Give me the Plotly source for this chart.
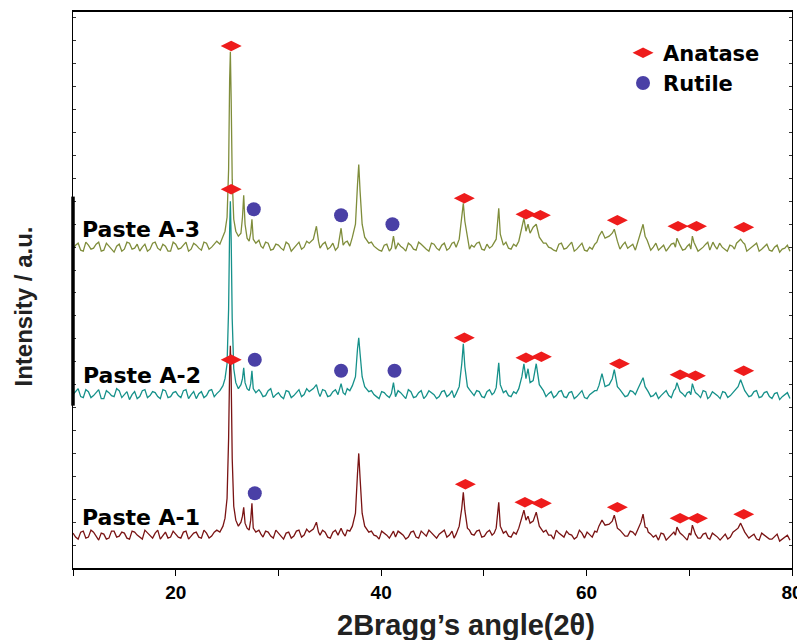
import plotly.graph_objects as go

# ---- data (2theta in degrees, intensity in arbitrary units, already offset per sample) ----
a1_points = [
    (10.0, 35), (10.5, 29), (11.0, 37), (11.5, 31), (12.0, 36), (12.5, 28), (13.0, 34), (13.5, 30),
    (14.0, 37), (14.5, 32), (15.0, 35), (15.5, 29), (16.0, 36), (16.5, 31), (17.0, 38), (17.5, 32),
    (18.0, 35), (18.5, 29), (19.0, 36), (19.5, 31), (20.0, 34), (20.5, 30), (21.0, 37), (21.5, 32),
    (22.0, 36), (22.5, 30), (23.0, 35), (23.5, 32), (24.0, 38), (24.3, 36), (24.6, 42), (24.8, 50),
    (25.0, 70), (25.15, 130), (25.25, 200), (25.32, 223), (25.4, 190), (25.5, 110), (25.65, 62),
    (25.85, 48), (26.1, 42), (26.35, 46), (26.5, 52), (26.62, 61), (26.75, 45), (26.95, 40),
    (27.15, 38), (27.3, 48), (27.42, 65), (27.55, 40), (27.8, 36), (28.1, 38), (28.5, 31), (29.0, 36),
    (29.5, 30), (30.0, 35), (30.5, 29), (31.0, 36), (31.5, 32), (32.0, 38), (32.5, 33), (33.0, 36),
    (33.4, 39), (33.7, 46), (33.9, 36), (34.3, 38), (34.8, 31), (35.3, 36), (35.8, 33), (36.1, 40),
    (36.3, 35), (36.7, 38), (37.2, 42), (37.5, 55), (37.7, 95), (37.82, 115), (37.95, 90), (38.15, 55),
    (38.4, 42), (38.8, 36), (39.3, 33), (39.8, 29), (40.3, 35), (40.8, 30), (41.2, 37), (41.4, 31),
    (41.9, 35), (42.4, 29), (42.9, 36), (43.4, 31), (43.9, 37), (44.4, 32), (44.9, 35), (45.4, 30),
    (45.9, 36), (46.4, 31), (46.9, 37), (47.3, 34), (47.6, 42), (47.85, 60), (48.0, 76), (48.15, 58),
    (48.4, 40), (48.8, 34), (49.3, 37), (49.8, 31), (50.3, 36), (50.8, 33), (51.2, 40), (51.45, 66),
    (51.6, 42), (51.9, 35), (52.4, 32), (52.9, 36), (53.4, 40), (53.7, 50), (53.9, 58), (54.1, 48),
    (54.3, 52), (54.5, 45), (54.8, 47), (55.1, 56), (55.4, 42), (55.8, 36), (56.3, 33), (56.8, 29),
    (57.3, 35), (57.8, 31), (58.3, 34), (58.8, 29), (59.3, 38), (59.8, 30), (60.3, 33), (60.8, 37),
    (61.2, 42), (61.5, 48), (61.8, 43), (62.2, 44), (62.5, 47), (62.7, 53), (63.0, 40), (63.5, 35),
    (64.0, 32), (64.5, 36), (65.0, 39), (65.3, 46), (65.5, 54), (65.7, 41), (66.0, 36), (66.5, 31),
    (67.0, 28), (67.5, 34), (68.0, 31), (68.5, 36), (68.8, 41), (69.1, 35), (69.6, 30), (70.0, 35),
    (70.3, 43), (70.6, 34), (71.1, 30), (71.6, 35), (72.0, 29), (72.5, 33), (73.0, 28), (73.5, 34),
    (74.0, 31), (74.5, 38), (75.0, 45), (75.4, 36), (75.8, 30), (76.3, 34), (76.8, 28), (77.3, 33),
    (77.8, 29), (78.3, 32), (78.8, 27), (79.3, 31), (79.8, 28),
]
a1_noise = [
    (10.25, 31), (10.75, 36), (11.25, 30), (11.75, 38), (12.25, 32), (12.75, 35), (13.25, 29),
    (13.75, 37), (14.25, 31), (14.75, 36), (15.25, 30), (15.75, 37), (16.25, 33), (16.75, 29),
    (17.25, 35), (17.75, 30), (18.25, 38), (18.75, 32), (19.25, 30), (19.75, 37), (20.25, 31),
    (20.75, 36), (21.25, 29), (21.75, 35), (22.25, 31), (22.75, 38), (23.25, 30), (23.75, 36),
    (28.3, 34), (28.75, 37), (29.25, 32), (29.75, 38), (30.25, 31), (30.75, 35), (31.25, 30),
    (31.75, 37), (32.25, 31), (32.75, 39), (34.05, 33), (34.55, 36), (35.05, 30), (35.55, 38),
    (36.5, 32), (36.95, 37), (39.05, 37), (39.55, 32), (40.05, 37), (40.55, 33), (41.0, 34),
    (41.65, 37), (42.15, 33), (42.65, 31), (43.15, 37), (43.65, 30), (44.15, 34), (44.65, 38),
    (45.15, 32), (45.65, 34), (46.15, 38), (46.65, 33), (47.1, 30), (48.6, 38), (49.05, 33),
    (49.55, 38), (50.05, 32), (50.55, 38), (51.0, 35), (52.15, 37), (52.65, 31), (53.15, 34),
    (56.05, 38), (56.55, 33), (57.05, 38), (57.55, 33), (58.05, 37), (58.55, 33), (59.05, 31),
    (59.55, 35), (60.05, 36), (60.55, 31), (61.0, 36), (63.25, 38), (63.75, 32), (64.25, 37),
    (64.75, 33), (65.9, 40), (66.25, 34), (66.75, 33), (67.25, 35), (67.75, 28), (68.25, 33),
    (68.65, 33), (68.95, 38), (69.35, 33), (69.8, 28), (70.15, 33), (70.45, 37), (70.85, 30),
    (71.35, 34), (71.8, 30), (72.25, 35), (72.75, 31), (73.25, 31), (73.75, 29), (74.25, 36),
    (74.75, 40), (75.2, 40), (75.6, 33), (76.05, 32), (76.55, 29), (77.05, 35), (77.55, 31),
    (78.05, 29), (78.55, 34), (79.05, 29), (79.55, 33),
]

a2_points = [
    (10.0, 174), (10.5, 180), (11.0, 171), (11.5, 177), (12.0, 173), (12.5, 179), (13.0, 170),
    (13.5, 176), (14.0, 172), (14.5, 178), (15.0, 174), (15.5, 169), (16.0, 177), (16.5, 172),
    (17.0, 179), (17.5, 173), (18.0, 176), (18.5, 170), (19.0, 178), (19.5, 172), (20.0, 177),
    (20.5, 171), (21.0, 179), (21.5, 174), (22.0, 170), (22.5, 177), (23.0, 173), (23.5, 179),
    (24.0, 175), (24.3, 178), (24.6, 183), (24.8, 190), (25.0, 205), (25.15, 260), (25.25, 340),
    (25.32, 368), (25.4, 330), (25.5, 250), (25.65, 200), (25.85, 186), (26.1, 180), (26.35, 184),
    (26.5, 190), (26.62, 201), (26.75, 186), (26.95, 180), (27.15, 178), (27.3, 185), (27.42, 198),
    (27.55, 180), (27.8, 176), (28.1, 179), (28.5, 172), (29.0, 178), (29.5, 171), (30.0, 176),
    (30.5, 170), (31.0, 177), (31.5, 173), (32.0, 179), (32.5, 174), (33.0, 177), (33.4, 180),
    (33.7, 184), (33.9, 176), (34.3, 179), (34.8, 172), (35.3, 177), (35.8, 174), (36.1, 185),
    (36.3, 176), (36.7, 180), (37.2, 183), (37.5, 192), (37.7, 220), (37.82, 231), (37.95, 215),
    (38.15, 192), (38.4, 182), (38.8, 177), (39.3, 174), (39.8, 170), (40.3, 176), (40.8, 171),
    (41.2, 186), (41.4, 172), (41.9, 176), (42.4, 170), (42.9, 177), (43.4, 172), (43.9, 178),
    (44.4, 173), (44.9, 176), (45.4, 170), (45.9, 177), (46.4, 172), (46.9, 178), (47.3, 175),
    (47.6, 182), (47.85, 205), (48.0, 225), (48.15, 202), (48.4, 182), (48.8, 176), (49.3, 178),
    (49.8, 172), (50.3, 177), (50.8, 174), (51.2, 181), (51.45, 206), (51.6, 184), (51.9, 176),
    (52.4, 173), (52.9, 177), (53.4, 180), (53.7, 192), (53.9, 205), (54.1, 190), (54.3, 200),
    (54.5, 186), (54.8, 188), (55.1, 205), (55.4, 184), (55.8, 178), (56.3, 175), (56.8, 171),
    (57.3, 177), (57.8, 172), (58.3, 176), (58.8, 170), (59.3, 175), (59.8, 171), (60.3, 174),
    (60.8, 178), (61.2, 183), (61.5, 195), (61.8, 182), (62.2, 184), (62.5, 190), (62.7, 199),
    (63.0, 182), (63.5, 176), (64.0, 173), (64.5, 177), (65.0, 180), (65.3, 186), (65.5, 191),
    (65.7, 182), (66.0, 177), (66.5, 173), (67.0, 170), (67.5, 176), (68.0, 173), (68.5, 178),
    (68.8, 186), (69.1, 177), (69.6, 172), (70.0, 177), (70.3, 185), (70.6, 176), (71.1, 171),
    (71.6, 177), (72.0, 172), (72.5, 175), (73.0, 170), (73.5, 176), (74.0, 173), (74.5, 179),
    (75.0, 189), (75.4, 178), (75.8, 172), (76.3, 177), (76.8, 171), (77.3, 176), (77.8, 172),
    (78.3, 175), (78.8, 169), (79.3, 174), (79.8, 170),
]
a2_noise = [
    (10.25, 177), (10.75, 172), (11.25, 179), (11.75, 171), (12.25, 176), (12.75, 170), (13.25, 178),
    (13.75, 173), (14.25, 180), (14.75, 171), (15.25, 177), (15.75, 174), (16.25, 170), (16.75, 178),
    (17.25, 171), (17.75, 177), (18.25, 172), (18.75, 179), (19.25, 171), (19.75, 176), (20.25, 173),
    (20.75, 178), (21.25, 170), (21.75, 177), (22.25, 175), (22.75, 171), (23.25, 178), (23.75, 172),
    (28.3, 176), (28.75, 173), (29.25, 180), (29.75, 174), (30.25, 172), (30.75, 178), (31.25, 171),
    (31.75, 176), (32.25, 172), (32.75, 180), (34.05, 172), (34.55, 178), (35.05, 173), (35.55, 179),
    (36.5, 174), (36.95, 178), (39.05, 178), (39.55, 172), (40.05, 177), (40.55, 173), (41.0, 175),
    (41.65, 178), (42.15, 173), (42.65, 179), (43.15, 171), (43.65, 176), (44.15, 170), (44.65, 178),
    (45.15, 174), (45.65, 172), (46.15, 178), (46.65, 174), (47.1, 171), (48.6, 179), (49.05, 173),
    (49.55, 177), (50.05, 171), (50.55, 179), (51.0, 176), (52.15, 178), (52.65, 172), (53.15, 175),
    (56.05, 172), (56.55, 177), (57.05, 173), (57.55, 178), (58.05, 171), (58.55, 177), (59.05, 172),
    (59.55, 178), (60.05, 170), (60.55, 176), (61.0, 178), (63.25, 179), (63.75, 172), (64.25, 178),
    (64.75, 174), (65.9, 179), (66.25, 172), (66.75, 176), (67.25, 173), (67.75, 178), (68.25, 171),
    (68.65, 180), (68.95, 181), (69.35, 175), (69.8, 176), (70.15, 174), (70.45, 180), (70.85, 174),
    (71.35, 178), (71.8, 170), (72.25, 177), (72.75, 173), (73.25, 177), (73.75, 171), (74.25, 176),
    (74.75, 182), (75.2, 184), (75.6, 175), (76.05, 173), (76.55, 178), (77.05, 172), (77.55, 177),
    (78.05, 170), (78.55, 176), (79.05, 172), (79.55, 176),
]

a3_points = [
    (10.0, 320), (10.5, 326), (11.0, 318), (11.5, 324), (12.0, 321), (12.5, 327), (13.0, 319),
    (13.5, 323), (14.0, 317), (14.5, 325), (15.0, 320), (15.5, 326), (16.0, 321), (16.5, 318),
    (17.0, 325), (17.5, 320), (18.0, 327), (18.5, 319), (19.0, 323), (19.5, 318), (20.0, 325),
    (20.5, 321), (21.0, 327), (21.5, 320), (22.0, 324), (22.5, 319), (23.0, 326), (23.5, 322),
    (24.0, 328), (24.3, 325), (24.6, 332), (24.8, 338), (25.0, 352), (25.15, 400), (25.25, 490),
    (25.32, 518), (25.4, 470), (25.5, 390), (25.65, 350), (25.85, 338), (26.1, 333), (26.35, 336),
    (26.5, 352), (26.62, 374), (26.75, 345), (26.95, 331), (27.15, 328), (27.3, 336), (27.42, 350),
    (27.55, 330), (27.8, 326), (28.1, 329), (28.5, 321), (29.0, 326), (29.5, 320), (30.0, 324),
    (30.5, 319), (31.0, 325), (31.5, 321), (32.0, 327), (32.5, 322), (33.0, 326), (33.4, 330),
    (33.7, 343), (33.9, 328), (34.3, 325), (34.8, 320), (35.3, 326), (35.8, 322), (36.1, 341),
    (36.3, 324), (36.7, 328), (37.2, 332), (37.5, 345), (37.7, 385), (37.82, 405), (37.95, 378),
    (38.15, 345), (38.4, 332), (38.8, 326), (39.3, 323), (39.8, 319), (40.3, 324), (40.8, 318),
    (41.2, 333), (41.4, 320), (41.9, 323), (42.4, 318), (42.9, 324), (43.4, 319), (43.9, 325),
    (44.4, 320), (44.9, 326), (45.4, 321), (45.9, 324), (46.4, 319), (46.9, 326), (47.3, 322),
    (47.6, 330), (47.85, 350), (48.0, 366), (48.15, 348), (48.4, 330), (48.8, 324), (49.3, 326),
    (49.8, 320), (50.3, 325), (50.8, 323), (51.2, 330), (51.45, 361), (51.6, 335), (51.9, 324),
    (52.4, 321), (52.9, 325), (53.4, 328), (53.7, 340), (53.9, 351), (54.1, 338), (54.3, 345),
    (54.5, 336), (54.8, 342), (55.1, 345), (55.4, 332), (55.8, 326), (56.3, 322), (56.8, 319),
    (57.3, 325), (57.8, 320), (58.3, 324), (58.8, 318), (59.3, 323), (59.8, 319), (60.3, 322),
    (60.8, 325), (61.2, 333), (61.5, 338), (61.8, 331), (62.2, 333), (62.5, 336), (62.7, 340),
    (63.0, 328), (63.5, 324), (64.0, 321), (64.5, 325), (65.0, 329), (65.3, 338), (65.5, 345),
    (65.7, 333), (66.0, 326), (66.5, 322), (67.0, 319), (67.5, 324), (68.0, 321), (68.5, 326),
    (68.8, 331), (69.1, 324), (69.6, 320), (70.0, 325), (70.3, 333), (70.6, 323), (71.1, 320),
    (71.6, 325), (72.0, 319), (72.3, 327), (72.7, 320), (73.2, 322), (73.7, 318), (74.2, 323),
    (74.6, 326), (75.0, 330), (75.4, 325), (75.8, 320), (76.3, 324), (76.8, 318), (77.3, 323),
    (77.8, 319), (78.3, 322), (78.8, 317), (79.3, 321), (79.8, 318),
]
a3_noise = [
    (10.25, 324), (10.75, 319), (11.25, 327), (11.75, 320), (12.25, 325), (12.75, 318), (13.25, 326),
    (13.75, 320), (14.25, 323), (14.75, 318), (15.25, 327), (15.75, 320), (16.25, 325), (16.75, 322),
    (17.25, 318), (17.75, 326), (18.25, 321), (18.75, 325), (19.25, 318), (19.75, 327), (20.25, 320),
    (20.75, 324), (21.25, 318), (21.75, 326), (22.25, 321), (22.75, 327), (23.25, 320), (23.75, 325),
    (28.3, 323), (28.75, 327), (29.25, 319), (29.75, 325), (30.25, 321), (30.75, 327), (31.25, 318),
    (31.75, 324), (32.25, 320), (32.75, 328), (34.05, 321), (34.55, 327), (35.05, 322), (35.55, 319),
    (36.5, 327), (36.95, 323), (39.05, 327), (39.55, 321), (40.05, 318), (40.55, 325), (41.0, 321),
    (41.65, 326), (42.15, 321), (42.65, 326), (43.15, 320), (43.65, 327), (44.15, 322), (44.65, 318),
    (45.15, 325), (45.65, 319), (46.15, 326), (46.65, 321), (47.1, 327), (48.6, 320), (49.05, 322),
    (49.55, 327), (50.05, 319), (50.55, 321), (51.0, 326), (52.15, 327), (52.65, 320), (53.15, 323),
    (56.05, 326), (56.55, 321), (57.05, 318), (57.55, 326), (58.05, 321), (58.55, 327), (59.05, 320),
    (59.55, 326), (60.05, 318), (60.55, 320), (61.0, 327), (63.25, 320), (63.75, 327), (64.25, 323),
    (64.75, 319), (65.9, 329), (66.25, 319), (66.75, 326), (67.25, 322), (67.75, 318), (68.25, 325),
    (68.65, 322), (68.95, 327), (69.35, 319), (69.8, 323), (70.15, 320), (70.45, 327), (70.85, 318),
    (71.35, 322), (71.8, 327), (72.5, 323), (72.95, 326), (73.45, 320), (73.95, 324), (74.4, 320),
    (74.8, 328), (75.2, 327), (75.6, 318), (76.05, 322), (76.55, 326), (77.05, 320), (77.55, 325),
    (78.05, 318), (78.55, 324), (79.05, 320), (79.55, 324),
]

# phase markers (2theta, marker height)
anatase_x = [25.4, 25.4, 48.1, 54.1, 55.5, 63.0, 68.9, 70.7, 75.3,
             25.4, 48.1, 54.1, 55.6, 63.2, 69.1, 70.6, 75.3,
             48.2, 54.0, 55.6, 63.0, 69.1, 70.8, 75.3]
anatase_y = [524, 380, 371, 355, 354, 349, 343, 343, 342,
             209, 231, 211, 212, 205, 194, 193, 198,
             84, 66, 65, 61, 50, 50, 54]
rutile_x = [27.6, 36.1, 41.1, 27.7, 36.1, 41.3, 27.7]
rutile_y = [360, 354, 345, 209, 198, 198, 75]

sample_names = ["Paste A-1", "Paste A-2", "Paste A-3"]
sample_colors = ["#7a1414", "#16918a", "#7f8d3b"]
label_pos = [(16.6, 51), (16.7, 193), (16.6, 340)]

x_ticks = [10, 20, 30, 40, 50, 60, 70, 80]
x_ticktext = ["", "<b>20</b>", "", "<b>40</b>", "", "<b>60</b>", "", "<b>80</b>"]

fig = go.Figure()
for pts, extra, name, col in zip([a1_points, a2_points, a3_points],
                                 [a1_noise, a2_noise, a3_noise],
                                 sample_names, sample_colors):
    merged = sorted(pts + extra)
    xs = [p[0] for p in merged]
    ys = [p[1] for p in merged]
    fig.add_trace(go.Scatter(x=xs, y=ys, mode="lines", name=name, showlegend=False,
                             line=dict(color=col, width=1.3)))

fig.add_trace(go.Scatter(x=anatase_x, y=anatase_y, mode="markers", name="<b>Anatase</b>",
                         marker=dict(symbol="diamond-wide", size=15, color="#ee1c1c")))
fig.add_trace(go.Scatter(x=rutile_x, y=rutile_y, mode="markers", name="<b>Rutile</b>",
                         marker=dict(symbol="circle", size=14, color="#4a40a6")))

for (lx, ly), name in zip(label_pos, sample_names):
    fig.add_annotation(x=lx, y=ly, text="<b>" + name + "</b>", showarrow=False,
                       font=dict(family="DejaVu Sans", size=22, color="black"))

fig.add_annotation(xref="paper", yref="paper", x=0.546, y=-0.102, xanchor="center",
                   yanchor="middle", text="<b>2Bragg’s angle(2θ)</b>", showarrow=False,
                   font=dict(family="Liberation Sans", size=29, color="#222"))
fig.add_annotation(xref="paper", yref="paper", x=-0.069, y=0.471, xanchor="center",
                   yanchor="middle", textangle=-90,
                   text="<b>Intensity / a.u.</b>", showarrow=False,
                   font=dict(family="Liberation Sans", size=24, color="#222"))

# thicker segment on the left axis
fig.add_shape(type="line", xref="paper", yref="paper", x0=0, x1=0, y0=0.292, y1=0.668,
              line=dict(color="black", width=3.5))

# page body has an 8px margin, so the figure is sized/placed to land on the reference frame
fig.update_layout(
    width=797, height=632,
    margin=dict(l=65, r=8, t=2, b=72),
    paper_bgcolor="white", plot_bgcolor="white",
    legend=dict(x=0.765, y=0.963, xanchor="left", yanchor="top",
                font=dict(family="DejaVu Sans", size=21, color="black"),
                bgcolor="rgba(0,0,0,0)", itemwidth=30),
)
fig.update_xaxes(range=[10, 80], tickvals=x_ticks, ticktext=x_ticktext,
                 ticks="outside", ticklen=6, tickwidth=1.3, tickcolor="black",
                 ticklabeloverflow="allow",
                 showline=True, linecolor="black", linewidth=1.5, mirror=True,
                 showgrid=False, zeroline=False,
                 tickfont=dict(family="Liberation Sans", size=19, color="black"))
fig.update_yaxes(range=[0, 558], dtick=23, tick0=0, showticklabels=False,
                 ticks="inside", ticklen=3, tickcolor="#333",
                 showline=True, linecolor="black", linewidth=1.2, mirror="ticks",
                 showgrid=False, zeroline=False)

fig.write_html("out.html")
